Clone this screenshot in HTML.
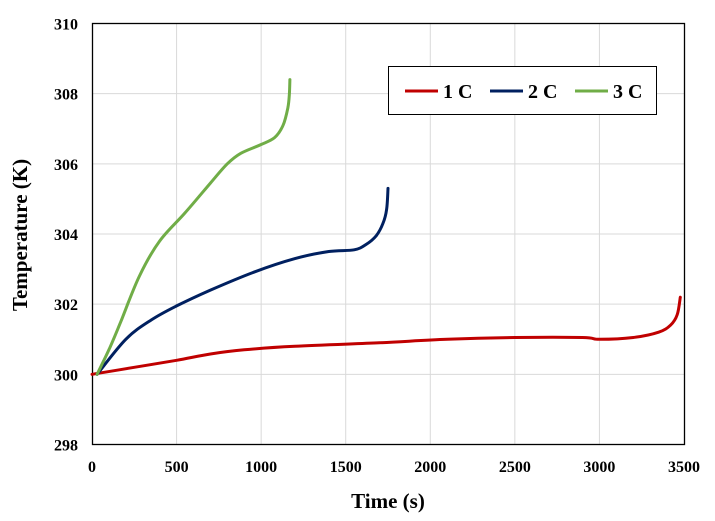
<!DOCTYPE html><html><head><meta charset="utf-8"><style>body{margin:0;background:#fff}svg{display:block}text{font-family:"Liberation Serif",serif;font-weight:bold}</style></head><body>
<svg id="s" width="715" height="521" xmlns="http://www.w3.org/2000/svg">
<g id="grid" stroke="#d9d9d9" stroke-width="1"></g>
<rect x="92.5" y="23.5" width="592" height="421" fill="none" stroke="#000" stroke-width="1.3"/>
<g id="lab" font-size="16" fill="#000"></g>
<path id="r" fill="none" stroke="#c00000" stroke-width="3" stroke-linejoin="round" stroke-linecap="round"/>
<path id="b" fill="none" stroke="#002060" stroke-width="3" stroke-linejoin="round" stroke-linecap="round"/>
<path id="g" fill="none" stroke="#70ad47" stroke-width="3" stroke-linejoin="round" stroke-linecap="round"/>
<text x="388" y="508" font-size="21" text-anchor="middle">Time (s)</text>
<text transform="translate(27,235) rotate(-90)" font-size="21" text-anchor="middle">Temperature (K)</text>
<rect x="388.5" y="66.5" width="268" height="48" fill="#fff" stroke="#000" stroke-width="1"/>
<line x1="405" y1="91" x2="438" y2="91" stroke="#c00000" stroke-width="3"/><text x="443" y="98" font-size="20">1 C</text>
<line x1="490" y1="91" x2="523" y2="91" stroke="#002060" stroke-width="3"/><text x="528" y="98" font-size="20">2 C</text>
<line x1="575" y1="91" x2="608" y2="91" stroke="#70ad47" stroke-width="3"/><text x="613" y="98" font-size="20">3 C</text>
</svg>
<script>
var X=t=>92+t*592/3500,Y=v=>444.5-(v-298)*421/12;
var g=document.getElementById('grid'),l=document.getElementById('lab'),ns='http://www.w3.org/2000/svg';
function el(p,n,a,txt){var e=document.createElementNS(ns,n);for(var k in a)e.setAttribute(k,a[k]);if(txt)e.textContent=txt;p.appendChild(e);}
for(var t=500;t<3500;t+=500)el(g,'line',{x1:X(t),x2:X(t),y1:24,y2:444});
for(var v=300;v<310;v+=2)el(g,'line',{x1:92,x2:684,y1:Y(v),y2:Y(v)});
for(var t=0;t<=3500;t+=500)el(l,'text',{x:X(t),y:472,'text-anchor':'middle'},''+t);
for(var v=298;v<=310;v+=2)el(l,'text',{x:78,y:Y(v)+6,'text-anchor':'end'},''+v);
function set(id,d){var p=d.map(q=>[X(q[0]),Y(q[1])]);var s='M'+p[0][0].toFixed(1)+','+p[0][1].toFixed(1);
for(var i=0;i<p.length-1;i++){var a=p[Math.max(0,i-1)],b=p[i],c=p[i+1],e=p[Math.min(p.length-1,i+2)];
var c1=[b[0]+(c[0]-a[0])/6,b[1]+(c[1]-a[1])/6],c2=[c[0]-(e[0]-b[0])/6,c[1]-(e[1]-b[1])/6];
s+=' C'+c1.map(x=>x.toFixed(1))+' '+c2.map(x=>x.toFixed(1))+' '+c.map(x=>x.toFixed(1));}
document.getElementById(id).setAttribute('d',s);}
set('r',[[0,300],[250,300.2],[500,300.4],[700,300.58],[900,300.7],[1200,300.8],[1700,300.9],[2100,301.0],[2500,301.05],[2900,301.05],[3000,301.0],[3200,301.05],[3350,301.2],[3420,301.4],[3460,301.7],[3478,302.2]]);
set('b',[[30,300],[200,301.0],[350,301.55],[500,301.95],[700,302.4],[950,302.9],[1200,303.3],[1400,303.5],[1550,303.55],[1620,303.7],[1680,303.95],[1720,304.3],[1742,304.7],[1750,305.3]]);
set('g',[[30,300],[100,300.7],[170,301.5],[280,302.8],[400,303.8],[550,304.6],[700,305.45],[800,306.0],[880,306.3],[1000,306.55],[1080,306.75],[1130,307.1],[1158,307.6],[1167,308.0],[1170,308.4]]);
</script>
</body></html>
